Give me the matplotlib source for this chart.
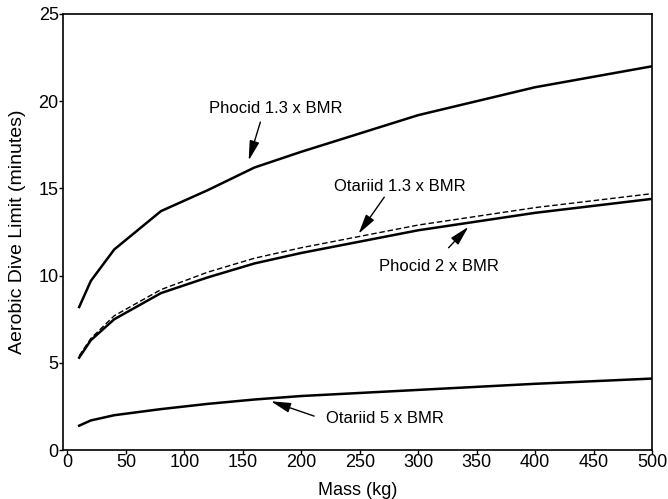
import numpy as np
import matplotlib
matplotlib.use('Agg')
import matplotlib.pyplot as plt

plt.rcParams['font.family'] = ['Liberation Sans', 'DejaVu Sans']

mass = [10, 20, 40, 80, 120, 160, 200, 300, 400, 500]
phocid_13 = [8.2, 9.7, 11.5, 13.7, 14.9, 16.2, 17.1, 19.2, 20.8, 22.0]
otariid_13 = [5.4, 6.4, 7.7, 9.2, 10.2, 11.0, 11.6, 12.9, 13.9, 14.7]
phocid_2 = [5.3, 6.3, 7.5, 9.0, 9.9, 10.7, 11.3, 12.6, 13.6, 14.4]
otariid_5 = [1.4, 1.7, 2.0, 2.35, 2.65, 2.9, 3.1, 3.45, 3.8, 4.1]

# label text, text position, arrow tail, arrow tip (data coords)
labels = [
    ('Phocid 1.3 x BMR', (178, 19.6), (165, 18.8), (155, 16.6)),
    ('Otariid 1.3 x BMR', (284, 15.1), (271, 14.5), (249, 12.4)),
    ('Phocid 2 x BMR', (318, 10.5), (326, 11.6), (343, 12.8)),
    ('Otariid 5 x BMR', (272, 1.8), (211, 1.95), (174, 2.8)),
]


def main():
    fig = plt.figure(figsize=(6.68, 4.99), dpi=100)
    ax = fig.add_axes([0.094, 0.098, 0.882, 0.874])

    ax.plot(mass, phocid_13, color='black', lw=1.8)
    ax.plot(mass, otariid_13, color='black', lw=1.0, ls=(0, (4, 2)))
    ax.plot(mass, phocid_2, color='black', lw=1.8)
    ax.plot(mass, otariid_5, color='black', lw=1.8)

    for txt, pos, tail, tip in labels:
        ax.text(pos[0], pos[1], txt, fontsize=12, ha='center', va='center')
        ax.annotate('', xy=tip, xytext=tail,
                    arrowprops=dict(arrowstyle='-|>,head_length=1.2,head_width=0.3',
                                    color='black', lw=1.0, shrinkA=0, shrinkB=0))

    ax.set_xlim(-4, 500)
    ax.set_ylim(0, 25)
    ax.set_xticks(np.arange(0, 501, 50))
    ax.set_yticks(np.arange(0, 26, 5))
    ax.tick_params(direction='out', length=3, width=1, labelsize=13, pad=0)
    for s in ax.spines.values():
        s.set_linewidth(1.2)
    ax.set_xlabel('Mass (kg)', fontsize=13, labelpad=8)
    ax.set_ylabel('Aerobic Dive Limit (minutes)', fontsize=14, labelpad=9)

    fig.savefig('out.png', dpi=100)


if __name__ == '__main__':
    main()
